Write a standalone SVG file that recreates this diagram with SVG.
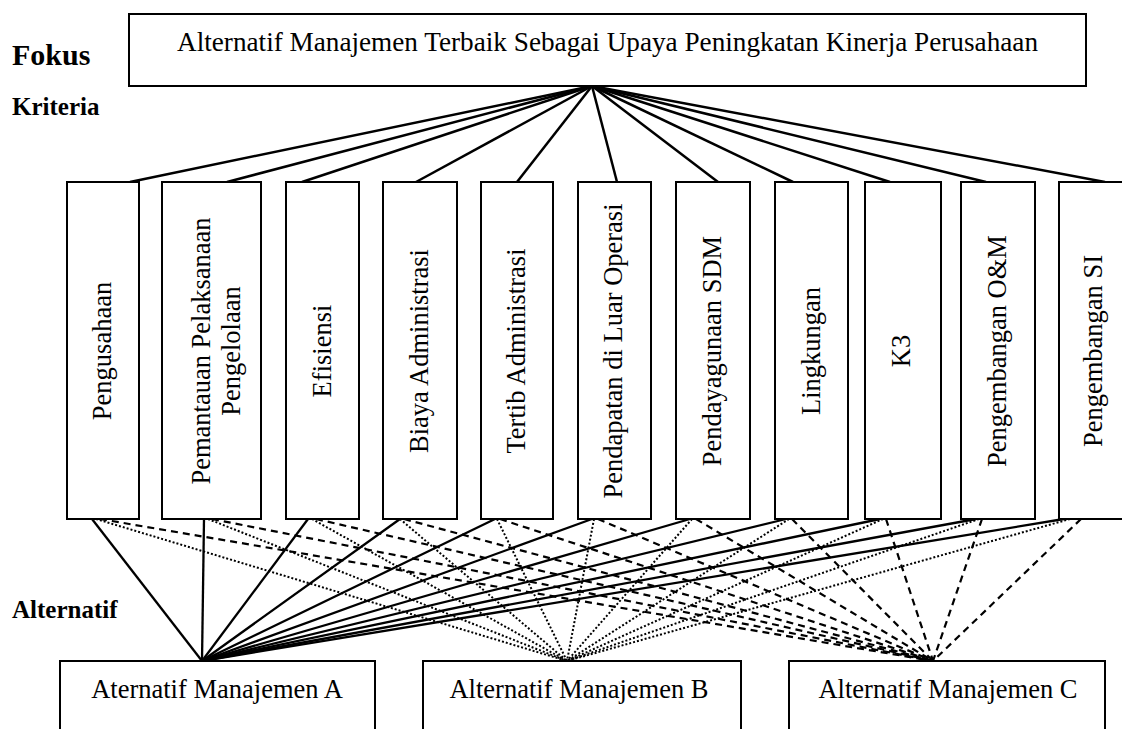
<svg xmlns="http://www.w3.org/2000/svg" width="1122" height="729" viewBox="0 0 1122 729">
<style>
  .box { fill: #fff; stroke: #000; stroke-width: 2; }
  .lbl { font-family: "Liberation Serif", "Times New Roman", serif; font-size: 26.5px; fill: #000; text-anchor: middle; }
  .lvl { font-family: "Liberation Serif", "Times New Roman", serif; font-weight: bold; fill: #000; }
  .top { stroke: #000; stroke-width: 2.5; fill: none; }
  .sA { stroke: #000; stroke-width: 2.3; fill: none; }
  .sB { stroke: #000; stroke-width: 2; stroke-dasharray: 2 2; fill: none; }
  .sC { stroke: #000; stroke-width: 2.2; stroke-dasharray: 7 5; fill: none; }
</style>
<rect width="1122" height="729" fill="#fff"/>

<text class="lvl" x="12" y="65" font-size="30">Fokus</text>
<text class="lvl" x="12" y="115" font-size="25">Kriteria</text>
<text class="lvl" x="12" y="618" font-size="25">Alternatif</text>

<g id="connectors">
  <g id="top-links">
    <line class="top" x1="592" y1="86" x2="130" y2="182"/>
    <line class="top" x1="592" y1="86" x2="227" y2="182"/>
    <line class="top" x1="592" y1="86" x2="302" y2="182"/>
    <line class="top" x1="592" y1="86" x2="416" y2="182"/>
    <line class="top" x1="592" y1="86" x2="517" y2="182"/>
    <line class="top" x1="592" y1="86" x2="617" y2="182"/>
    <line class="top" x1="592" y1="86" x2="718" y2="182"/>
    <line class="top" x1="592" y1="86" x2="793" y2="182"/>
    <line class="top" x1="592" y1="86" x2="890" y2="182"/>
    <line class="top" x1="592" y1="86" x2="986" y2="182"/>
    <line class="top" x1="592" y1="86" x2="1105" y2="182"/>
  </g>
  <g id="links-A">
    <line class="sA" x1="92" y1="519" x2="202" y2="661"/>
    <line class="sA" x1="204" y1="519" x2="202" y2="661"/>
    <line class="sA" x1="308" y1="519" x2="202" y2="661"/>
    <line class="sA" x1="400" y1="519" x2="202" y2="661"/>
    <line class="sA" x1="495" y1="519" x2="202" y2="661"/>
    <line class="sA" x1="592" y1="519" x2="202" y2="661"/>
    <line class="sA" x1="690" y1="519" x2="202" y2="661"/>
    <line class="sA" x1="786" y1="519" x2="202" y2="661"/>
    <line class="sA" x1="880" y1="519" x2="202" y2="661"/>
    <line class="sA" x1="976" y1="519" x2="202" y2="661"/>
    <line class="sA" x1="1064" y1="519" x2="202" y2="661"/>
  </g>
  <g id="links-B">
    <line class="sB" x1="96" y1="519" x2="567" y2="661"/>
    <line class="sB" x1="208" y1="519" x2="567" y2="661"/>
    <line class="sB" x1="312" y1="519" x2="567" y2="661"/>
    <line class="sB" x1="400" y1="519" x2="567" y2="661"/>
    <line class="sB" x1="497" y1="519" x2="567" y2="661"/>
    <line class="sB" x1="594" y1="519" x2="567" y2="661"/>
    <line class="sB" x1="692" y1="519" x2="567" y2="661"/>
    <line class="sB" x1="789" y1="519" x2="567" y2="661"/>
    <line class="sB" x1="883" y1="519" x2="567" y2="661"/>
    <line class="sB" x1="979" y1="519" x2="567" y2="661"/>
    <line class="sB" x1="1070" y1="519" x2="567" y2="661"/>
  </g>
  <g id="links-C">
    <line class="sC" x1="100" y1="519" x2="933" y2="661"/>
    <line class="sC" x1="212" y1="519" x2="933" y2="661"/>
    <line class="sC" x1="316" y1="519" x2="933" y2="661"/>
    <line class="sC" x1="404" y1="519" x2="933" y2="661"/>
    <line class="sC" x1="500" y1="519" x2="933" y2="661"/>
    <line class="sC" x1="598" y1="519" x2="933" y2="661"/>
    <line class="sC" x1="696" y1="519" x2="933" y2="661"/>
    <line class="sC" x1="792" y1="519" x2="933" y2="661"/>
    <line class="sC" x1="886" y1="519" x2="933" y2="661"/>
    <line class="sC" x1="982" y1="519" x2="933" y2="661"/>
    <line class="sC" x1="1081" y1="519" x2="933" y2="661"/>
  </g>
</g>

<g id="focus">
  <rect class="box" x="129" y="14" width="957" height="72"/>
  <text class="lbl" x="607.5" y="51" font-size="24" textLength="861" lengthAdjust="spacingAndGlyphs">Alternatif Manajemen Terbaik Sebagai Upaya Peningkatan Kinerja Perusahaan</text>
</g>

<g id="k1"><rect class="box" x="67" y="182" width="72" height="337"/><text class="lbl" transform="translate(103,351) rotate(-90)" y="8">Pengusahaan</text></g>
<g id="k2"><rect class="box" x="162" y="182" width="99" height="337"/><text class="lbl" transform="translate(211,351) rotate(-90)"><tspan x="0" y="-1">Pemantauan Pelaksanaan</tspan><tspan x="0" y="29">Pengelolaan</tspan></text></g>
<g id="k3"><rect class="box" x="286" y="182" width="73" height="337"/><text class="lbl" transform="translate(322,351) rotate(-90)" y="9">Efisiensi</text></g>
<g id="k4"><rect class="box" x="383" y="182" width="74" height="337"/><text class="lbl" transform="translate(420,351) rotate(-90)" y="8">Biaya Administrasi</text></g>
<g id="k5"><rect class="box" x="481" y="182" width="72" height="337"/><text class="lbl" transform="translate(517,351) rotate(-90)" y="8">Tertib Administrasi</text></g>
<g id="k6"><rect class="box" x="578" y="182" width="73" height="337"/><text class="lbl" transform="translate(614.5,351) rotate(-90)" y="7">Pendapatan di Luar Operasi</text></g>
<g id="k7"><rect class="box" x="676" y="182" width="74" height="337"/><text class="lbl" transform="translate(713,351) rotate(-90)" y="8">Pendayagunaan SDM</text></g>
<g id="k8"><rect class="box" x="775" y="182" width="73" height="337"/><text class="lbl" transform="translate(812,351) rotate(-90)" y="8">Lingkungan</text></g>
<g id="k9"><rect class="box" x="865" y="182" width="76" height="337"/><text class="lbl" transform="translate(903,351) rotate(-90)" y="7">K3</text></g>
<g id="k10"><rect class="box" x="961" y="182" width="74" height="337"/><text class="lbl" transform="translate(998,351) rotate(-90)" y="8">Pengembangan O&amp;M</text></g>
<g id="k11"><rect class="box" x="1059" y="182" width="72" height="337"/><text class="lbl" transform="translate(1094,351) rotate(-90)" y="8">Pengembangan SI</text></g>

<g id="altA"><rect class="box" x="60" y="661" width="315" height="90"/><text class="lbl" x="217" y="698">Aternatif Manajemen A</text></g>
<g id="altB"><rect class="box" x="423" y="661" width="318" height="90"/><text class="lbl" x="579" y="698">Alternatif Manajemen B</text></g>
<g id="altC"><rect class="box" x="789" y="661" width="316" height="90"/><text class="lbl" x="948" y="698">Alternatif Manajemen C</text></g>
</svg>
